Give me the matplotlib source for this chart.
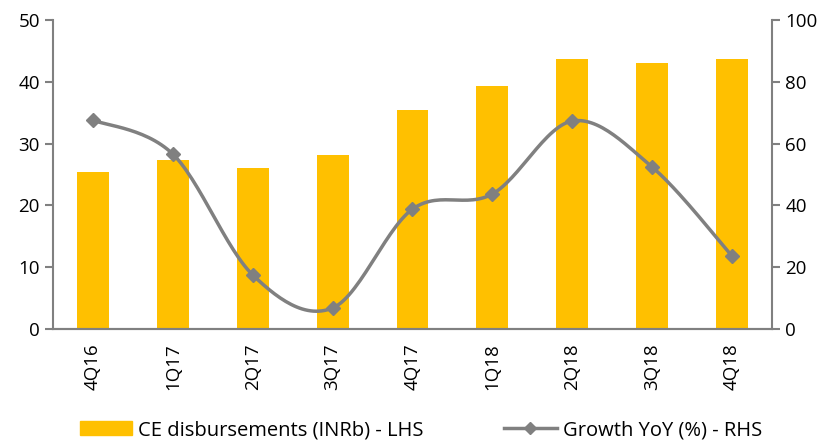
import numpy as np
import matplotlib
matplotlib.use("Agg")
import matplotlib.pyplot as plt
from matplotlib.lines import Line2D
from matplotlib.patches import Patch

categories = ["4Q16", "1Q17", "2Q17", "3Q17", "4Q17", "1Q18", "2Q18", "3Q18", "4Q18"]
disbursements = [25.4, 27.3, 26.1, 28.2, 35.4, 39.3, 43.7, 43.0, 43.7]
growth = [67.6, 56.6, 17.5, 6.8, 38.8, 43.7, 67.3, 52.4, 23.6]
left_ticks = [0, 10, 20, 30, 40, 50]
right_ticks = [0, 20, 40, 60, 80, 100]

plt.rcParams['font.family'] = ['Open Sans', 'DejaVu Sans']

BAR = "#FFC000"
GRAY = "#808080"

fig = plt.figure(figsize=(8.25, 4.43), dpi=100)
ax = fig.add_axes([53/825, 1-329/443, (772-53)/825, (329-20)/443])
ax2 = ax.twinx()

x = np.arange(len(categories))
ax.bar(x, disbursements, width=0.4, color=BAR, zorder=1)
ax.set_xlim(-0.5, len(categories) - 0.5)
ax.set_ylim(0, 50)
ax.set_yticks(left_ticks)
ax.set_xticks(x)
ax.set_xticklabels(categories, rotation=90, fontsize=13.5)

# smooth curve (Catmull-Rom, parametric) through data points
def smooth(xs, ys, n=30, tension=0.5):
    P = np.column_stack([xs, ys]).astype(float)
    P = np.vstack([P[0], P, P[-1]])
    out = []
    for i in range(1, len(P) - 2):
        p0, p1, p2, p3 = P[i-1], P[i], P[i+1], P[i+2]
        m1 = tension * (p2 - p0)
        m2 = tension * (p3 - p1)
        t = np.linspace(0, 1, n)[:, None]
        h00 = 2*t**3 - 3*t**2 + 1
        h10 = t**3 - 2*t**2 + t
        h01 = -2*t**3 + 3*t**2
        h11 = t**3 - t**2
        seg = h00*p1 + h10*m1 + h01*p2 + h11*m2
        out.append(seg if i == 1 else seg[1:])
    o = np.vstack(out)
    return o[:, 0], o[:, 1]

sx, sy = smooth(x, growth)
ax2.plot(sx, sy, color=GRAY, lw=2.5, zorder=3)
ax2.plot(x, growth, ls="none", marker="D", ms=7, color=GRAY, zorder=4)
ax2.set_ylim(0, 100)
ax2.set_yticks(right_ticks)

for a in (ax, ax2):
    a.spines["top"].set_visible(False)
    for s in ("left", "right", "bottom"):
        a.spines[s].set_color(GRAY)
        a.spines[s].set_linewidth(1.5)
    a.tick_params(axis="y", colors=GRAY, labelcolor="black", labelsize=13.5, width=1.5, length=6)
ax.spines["right"].set_visible(False)
ax2.spines["left"].set_visible(False)
ax.tick_params(axis="x", length=0, labelsize=13.5, pad=10)

handles = [Patch(color=BAR), Line2D([0], [0], color=GRAY, lw=2.5, marker="D", ms=6)]
labels = ["CE disbursements (INRb) - LHS", "Growth YoY (%) - RHS"]
fig.legend(handles, labels, loc="lower center", bbox_to_anchor=(0.51, -0.035), ncol=2,
           frameon=False, fontsize=14.5, handlelength=2.6, columnspacing=4.0, handletextpad=0.3)

fig.savefig("out.png", dpi=100)
